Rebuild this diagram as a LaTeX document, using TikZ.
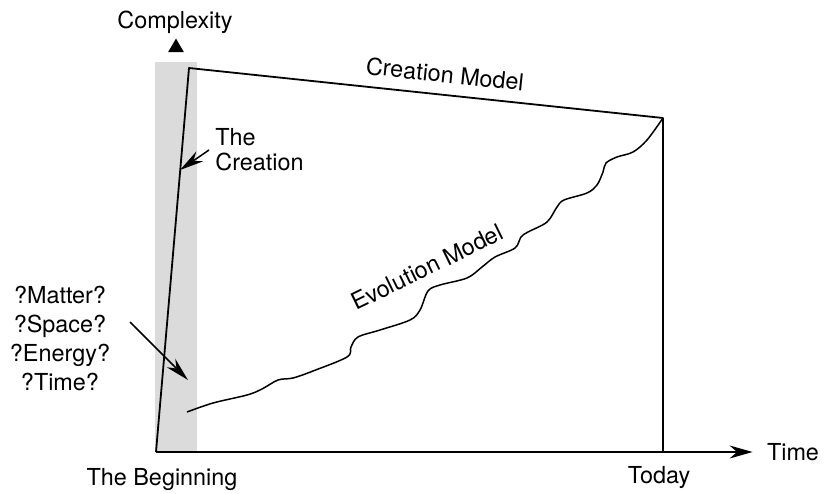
\documentclass[tikz,border=0pt]{standalone}
\usepackage{fontspec}
\setmainfont{TeX Gyre Heros}
\usetikzlibrary{arrows.meta, positioning, shapes.geometric}

\begin{document}
\begin{tikzpicture}[
    x=0.5pt, y=-0.5pt,
    label/.style={font=\fontsize{11.7}{12.5}\selectfont, inner sep=1pt},
    model/.style={line width=0.9pt, line join=round},
    wiggle/.style={line width=0.75pt},
    pointer/.style={-{Stealth[length=12pt, width=6pt]}, line width=0.75pt},
    axis/.style={-{Stealth[length=11.5pt, width=6.5pt]}, line width=0.7pt},
]
    \useasboundingbox (0,0) rectangle (829,493);

    % Shaded band
    \fill[gray!28] (155,62) rectangle (197,452);

    % Key points
    \coordinate (origin) at (156,452);
    \coordinate (peak) at (189,68);
    \coordinate (now) at (663,118);
    \coordinate (today) at (663,452);
    \coordinate (creationtip) at (180,170);
    \coordinate (qtail) at (130,322);
    \coordinate (qtip) at (188,380);

    % Labels
    \node[label] (complexity) at (175,22) {Complexity};
    \node[fill, regular polygon, regular polygon sides=3, inner sep=0pt,
          minimum size=9pt] (ytip) at (176,47.5) {};
    \node[label] (time) at (793,452) {Time};
    \node[label] (todaylbl) at (659,478) {Today};
    \node[label] (beginning) at (162,480) {The Beginning};
    \node[label, align=left, anchor=west] (creation) at (213,150) {The\\Creation};
    \node[label, align=center, font=\fontsize{11.7}{14.5}\selectfont]
        (questions) at (60,338) {?Matter?\\?Space?\\?Energy?\\?Time?};
    \node[label, rotate=-6] (creationmodel) at (445,74) {Creation Model};
    \node[label, rotate=26] (evolutionmodel) at (427,267) {Evolution Model};

    % Axis
    \draw[axis] (origin) -- ([xshift=-6pt]time.west);

    % Creation model
    \draw[model] (origin) -- (peak) -- (now) -- (today);

    % Evolution model
    \draw[wiggle] plot[smooth, tension=0.55] coordinates {
        (187,412) (213,403) (247,395) (262,389) (278,380) (293,378)
        (313,371) (347,357) (351,347) (358,337) (380,330) (410,320)
        (420,310) (428,291) (440,285) (467,278) (482,267) (495,257)
        (515,248) (521,237) (528,232) (547,222) (557,207) (564,200)
        (587,193) (597,185) (603,172) (606,163) (617,157) (633,152)
        (647,140) (663,118)};

    % Pointers
    \draw[pointer] ([xshift=-2pt]creation.west) -- (creationtip);
    \draw[pointer] (qtail) -- (qtip);
\end{tikzpicture}
\end{document}
